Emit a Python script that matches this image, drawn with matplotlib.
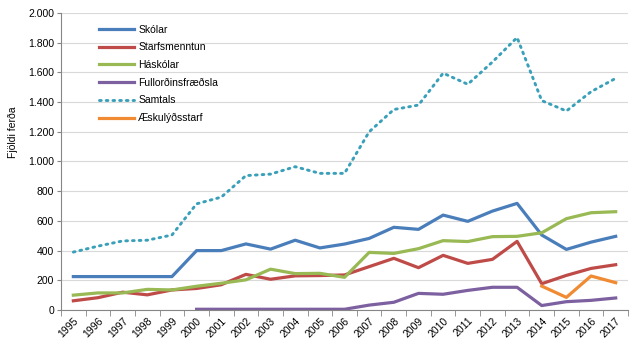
import matplotlib.pyplot as plt
import numpy as np

years = [str(y) for y in range(1995, 2018)]

skolar = [225, 225, 225, 225, 225, 400, 400, 445, 410, 470, 418, 444, 482,
          557, 543, 639, 597, 666, 718, 505, 408, 457, 496]
starfsmenntun = [62, 83, 120, 102, 135, 145, 170, 240, 207, 230, 232, 236, 292,
                 348, 285, 368, 314, 341, 462, 177, 233, 280, 305]
haskolar = [100, 115, 115, 139, 135, 160, 180, 203, 275, 245, 247, 220, 388,
            381, 413, 467, 461, 494, 496, 520, 615, 655, 662]
fullord = [None] * 5 + [5, 5, 5, 5, 5, 5, 5, 33, 52, 112, 106, 132, 153, 153,
                        30, 56, 65, 81]
samtals = [390, 430, 465, 470, 505, 715, 760, 905, 915, 965, 920, 920, 1200,
           1350, 1380, 1595, 1520, 1670, 1835, 1410, 1340, 1470, 1560]
aeskulyd = [None] * 19 + [161, 85, 229, 184]

def arr(v):
    return np.array([np.nan if x is None else x for x in v], dtype=float)

plt.rcParams['font.family'] = ['Liberation Sans', 'DejaVu Sans']
fs = 7.5

fig = plt.figure(figsize=(6.43, 3.53), dpi=100)
ax = fig.add_axes([0.0949, 0.1218, 0.8818, 0.8414])
x = np.arange(len(years))

ax.plot(x, arr(skolar), color='#4A7EBB', lw=2.3, label='Skólar')
ax.plot(x, arr(starfsmenntun), color='#BE4B48', lw=2.3, label='Starfsmenntun')
ax.plot(x, arr(haskolar), color='#98B954', lw=2.3, label='Háskólar')
ax.plot(x, arr(fullord), color='#7D60A0', lw=2.3, label='Fullorðinsfræðsla')
ax.plot(x, arr(samtals), color='#3AA0BA', lw=2.1, ls=(0, (0.6, 1.7)),
        dash_capstyle='round', label='Samtals')
ax.plot(x, arr(aeskulyd), color='#F08A33', lw=2.3, label='Æskulýðsstarf')

ax.set_xlim(-0.5, len(years) - 0.5)
ax.set_ylim(0, 2000)
ax.set_yticks(range(0, 2001, 200))
ax.set_yticklabels([f'{v:,}'.replace(',', '.') for v in range(0, 2001, 200)],
                   fontsize=fs)
ax.grid(axis='y', color='#D9D9D9', lw=0.8)
ax.set_axisbelow(True)

ax.set_xticks(x)
ax.set_xticklabels(years, rotation=45, ha='right', rotation_mode='anchor',
                   fontsize=fs)
ax.tick_params(axis='x', length=0, pad=4)
ax.set_xticks(np.arange(-0.5, len(years)), minor=True)
ax.tick_params(axis='x', which='minor', length=4, color='#868686')
ax.tick_params(axis='y', length=3, color='#868686', pad=2)

for s in ['top', 'right']:
    ax.spines[s].set_visible(False)
for s in ['left', 'bottom']:
    ax.spines[s].set_color('#868686')
    ax.spines[s].set_linewidth(0.8)

ax.set_ylabel('Fjöldi ferða', fontsize=fs, labelpad=6)
ax.yaxis.set_label_coords(-0.075, 0.6)

ax.legend(loc='upper left', bbox_to_anchor=(0.147, 0.942),
          bbox_transform=fig.transFigure, frameon=False, fontsize=fs,
          handlelength=3.4, labelspacing=0.74, handletextpad=0.4,
          borderaxespad=0)

fig.savefig('out.png', dpi=100)
